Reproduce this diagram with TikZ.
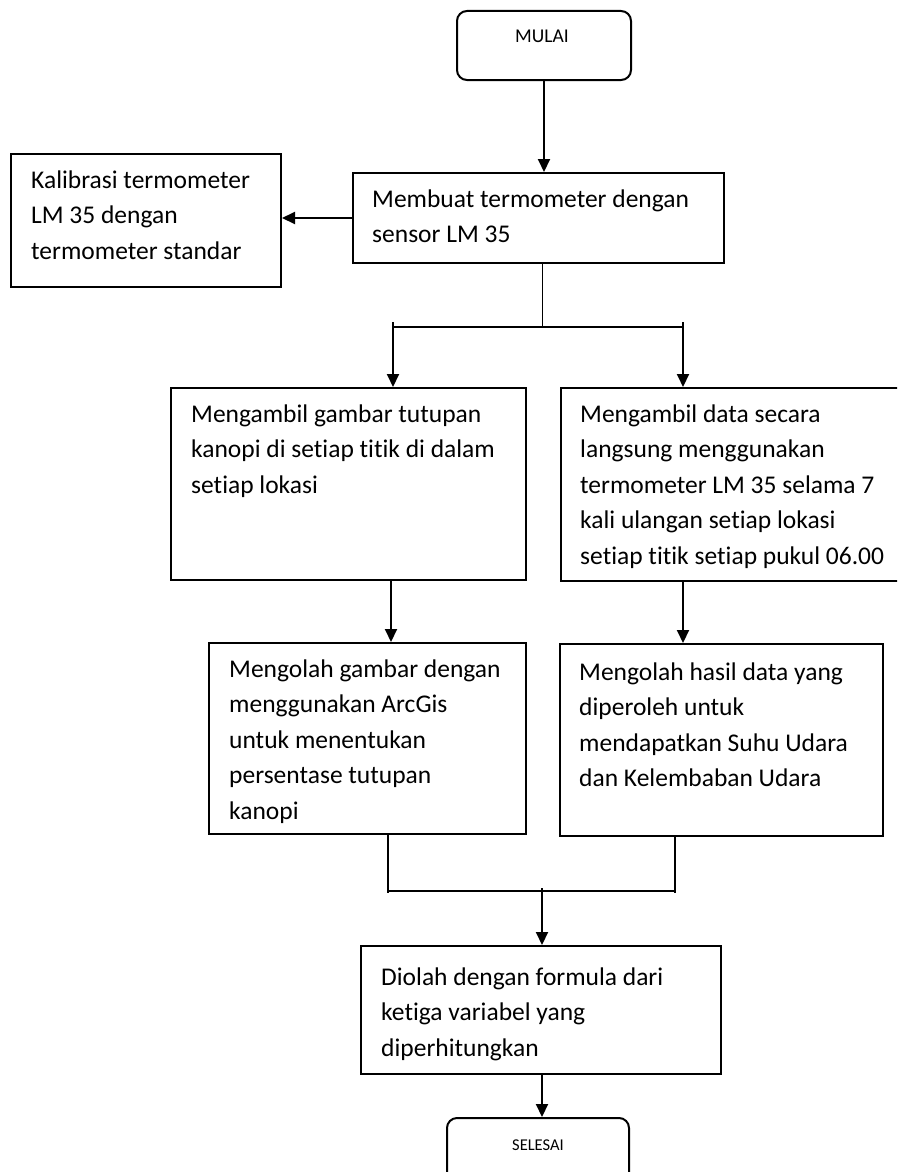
\documentclass[tikz,border=0pt]{standalone}
\usepackage{fontspec}
\setmainfont[Ligatures=NoCommon]{Carlito}
\usetikzlibrary{arrows.meta}
\newcommand\bodyfont{\fontsize{25.5}{35.5}\selectfont}
\newcommand\btext[2]{\parbox[t]{#1}{\bodyfont\raggedright #2}}
\begin{document}
\begin{tikzpicture}[x=1pt,y=-1pt,
  box/.style={draw, line width=2pt, inner sep=0pt, anchor=north west},
  rbox/.style={box, rounded corners=10pt},
  txt/.style={anchor=base west, inner sep=0pt},
  arr/.style={line width=2pt, -{Triangle[length=13pt,width=12pt]}},
  thinln/.style={line width=1pt},
  midln/.style={line width=1.5pt},
  mergeln/.style={line width=2pt}]
\useasboundingbox (0,0) rectangle (897,1172);
\clip (0,0) rectangle (897,1172);

% boxes
\node[rbox, minimum width=174pt, minimum height=69pt] (mulai) at (456,10) {};
\node[anchor=base, inner sep=0pt] (mulait) at (542,43) {\fontsize{19.5}{23}\selectfont MULAI};

\node[box, minimum width=371pt, minimum height=90pt] (membuat) at (352,172) {};
\node[txt] (membuatt) at (372,207) {\btext{345pt}{Membuat termometer dengan\\sensor LM 35}};

\node[box, minimum width=270pt, minimum height=133pt] (kal) at (10,153) {};
\node[txt] (kalt) at (31,188) {\btext{248pt}{Kalibrasi termometer\\LM 35 dengan\\termometer standar}};

\node[box, minimum width=355pt, minimum height=192pt] (ambil1) at (170,387) {};
\node[txt] (ambil1t) at (191,422) {\btext{333pt}{Mengambil gambar tutupan\\kanopi di setiap titik di dalam\\setiap lokasi}};

\node[box, minimum width=340pt, minimum height=193pt] (ambil2) at (560,387) {};
\node[txt] (ambil2t) at (580,422) {\btext{330pt}{Mengambil data secara\\langsung menggunakan\\termometer LM 35 selama 7\\kali ulangan setiap lokasi\\setiap titik setiap pukul 06.00}};

\node[box, minimum width=317pt, minimum height=191pt] (olah1) at (208,642) {};
\node[txt] (olah1t) at (229,677) {\btext{295pt}{Mengolah gambar dengan\\menggunakan ArcGis\\untuk menentukan\\persentase tutupan\\kanopi}};

\node[box, minimum width=323pt, minimum height=192pt] (olah2) at (559,643) {};
\node[txt] (olah2t) at (579,680) {\btext{300pt}{Mengolah hasil data yang\\diperoleh untuk\\mendapatkan Suhu Udara\\dan Kelembaban Udara}};

\node[box, minimum width=360pt, minimum height=128pt] (diolah) at (360,945) {};
\node[txt] (diolaht) at (381,985) {\btext{335pt}{Diolah dengan formula dari\\ketiga variabel yang\\diperhitungkan}};

\node[rbox, minimum width=182pt, minimum height=75pt] (selesai) at (446,1117) {};
\node[anchor=base, inner sep=0pt] (selesait) at (538,1150) {\fontsize{16.5}{20}\selectfont SELESAI};

% connectors
\draw[arr] (mulai.south) -- (mulai.south |- membuat.north);
\draw[arr] (membuat.west) -- (kal.east |- membuat.west);

\coordinate (bj) at (542,327);
\coordinate (bl) at (393,322);
\coordinate (br) at (683,322);
\draw[thinln] (bj |- membuat.south) -- (bj);
\draw[midln] (bl |- bj) -- (br |- bj);
\draw[arr] (bl) -- (bl |- ambil1.north);
\draw[arr] (br) -- (br |- ambil2.north);

\coordinate (xl) at (391,600);
\coordinate (xr) at (683,600);
\draw[arr] (xl |- ambil1.south) -- (xl |- olah1.north);
\draw[arr] (xr |- ambil2.south) -- (xr |- olah2.north);

\coordinate (ml) at (388,893);
\coordinate (mr) at (675,893);
\coordinate (mh) at (0,891);
\coordinate (mj) at (542,888);
\draw[mergeln] (ml |- olah1.south) -- (ml);
\draw[mergeln] (mr |- olah2.south) -- (mr);
\draw[mergeln] (ml |- mh) -- (mr |- mh);
\draw[arr] (mj) -- (mj |- diolah.north);
\draw[arr] (mj |- diolah.south) -- (mj |- selesai.north);
\end{tikzpicture}
\end{document}
